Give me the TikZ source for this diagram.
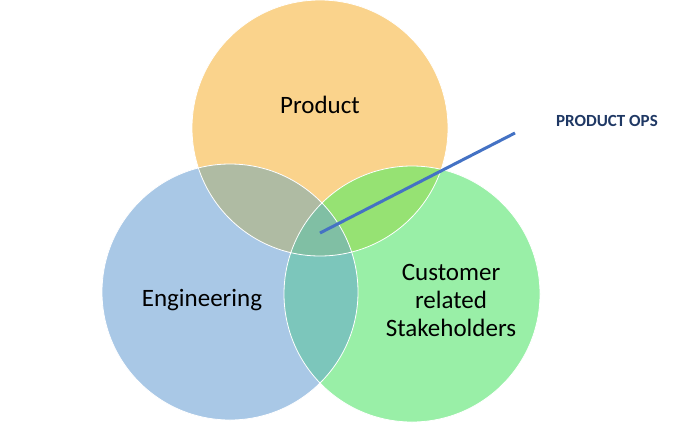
\documentclass[tikz,border=0pt]{standalone}
\usepackage{fontspec}
\setmainfont{Carlito}
\begin{document}
\begin{tikzpicture}[x=1pt,y=-1pt]
\definecolor{cp}{HTML}{FAD38C}
\definecolor{ce}{HTML}{A9C8E6}
\definecolor{cc}{HTML}{99EFA7}
\definecolor{cpe}{HTML}{AFBBA3}
\definecolor{cpc}{HTML}{96E273}
\definecolor{cec}{HTML}{7CC6BB}
\definecolor{cpec}{HTML}{80BFA4}
\definecolor{lineblue}{HTML}{4472C4}
\definecolor{navy}{HTML}{1F3864}
\tikzset{lbl/.style={font=\fontsize{25}{28}\selectfont,align=center,text=black},
 circ/.style={draw=white,line width=0.8pt}}
\useasboundingbox (0,0) rectangle (693,426);
\def\P{(320,128) circle (128)}
\def\E{(230,292) circle (128)}
\def\C{(412,294) circle (128)}
\fill[cp] \P; \fill[ce] \E; \fill[cc] \C;
\begin{scope}\clip \P; \fill[cpe] \E; \end{scope}
\begin{scope}\clip \P; \fill[cpc] \C; \end{scope}
\begin{scope}\clip \E; \fill[cec] \C; \end{scope}
\begin{scope}\clip \P; \clip \E; \fill[cpec] \C; \end{scope}
\draw[circ] \P; \draw[circ] \E; \draw[circ] \C;
\node[lbl] (prod) at (320,105) {Product};
\node[lbl] (eng) at (202,300) {Engineering};
\node[lbl] (cust) at (451,300) {Customer\\related\\Stakeholders};
\coordinate (center) at (320,233);
\node[font=\bfseries\fontsize{17}{20}\selectfont,text=navy] (ops) at (607,121) {PRODUCT OPS};
\coordinate (lend) at (515,133);
\draw[lineblue,line width=3pt] (center) -- (lend);
\end{tikzpicture}
\end{document}
